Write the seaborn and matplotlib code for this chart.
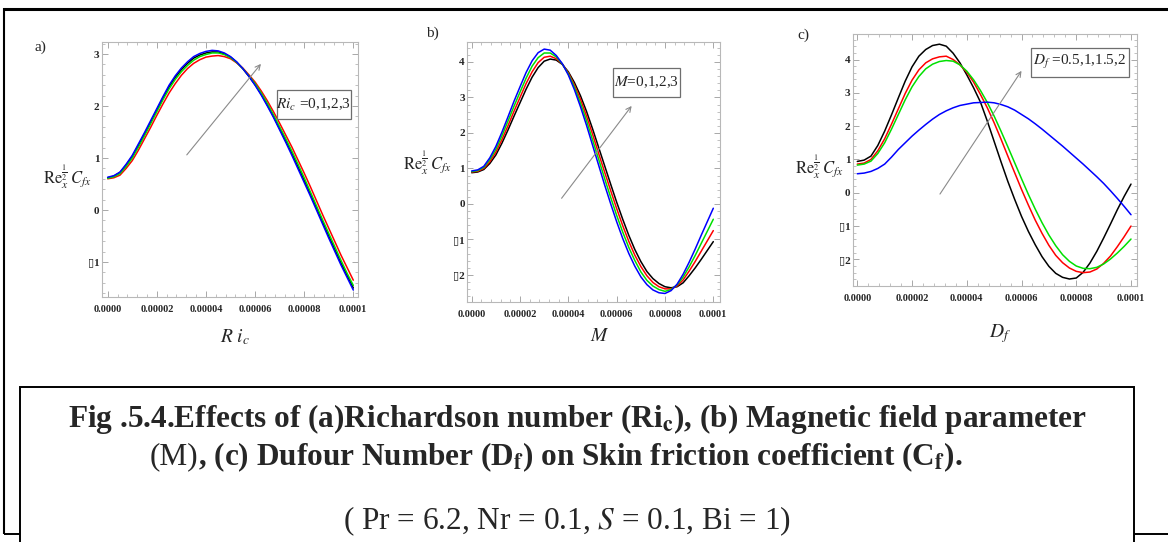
import numpy as np
import pandas as pd
import matplotlib
matplotlib.use("Agg")
import matplotlib.pyplot as plt
import seaborn as sns
from matplotlib.patches import Rectangle
from matplotlib.lines import Line2D
from matplotlib.ticker import AutoMinorLocator

# ---------------------------------------------------------------------------
# data: skin friction Re_x^{1/2} C_fx sampled every 2.5e-6 along the x axis
# ---------------------------------------------------------------------------
x_grid = np.linspace(0.0, 1.0e-4, 41)

# (a) Richardson number Ri_c
ri_black = [0.62, 0.65, 0.72, 0.86, 1.03, 1.24, 1.46, 1.69, 1.92, 2.15, 2.37,
            2.55, 2.70, 2.82, 2.92, 2.98, 3.02, 3.04, 3.04, 3.00, 2.94, 2.84,
            2.72, 2.57, 2.41, 2.23, 2.02, 1.80, 1.57, 1.33, 1.09, 0.83, 0.57,
            0.31, 0.04, -0.23, -0.50, -0.76, -1.02, -1.26, -1.50]
ri_red = [0.60, 0.62, 0.67, 0.80, 0.95, 1.15, 1.37, 1.59, 1.82, 2.04, 2.25,
          2.43, 2.59, 2.72, 2.82, 2.89, 2.94, 2.96, 2.97, 2.95, 2.91, 2.83,
          2.73, 2.60, 2.46, 2.29, 2.10, 1.89, 1.67, 1.44, 1.21, 0.96, 0.71,
          0.45, 0.18, -0.09, -0.35, -0.61, -0.87, -1.11, -1.35]
ri_green = [0.61, 0.64, 0.70, 0.84, 1.00, 1.21, 1.43, 1.66, 1.89, 2.12, 2.33,
            2.51, 2.66, 2.78, 2.88, 2.95, 2.99, 3.02, 3.02, 2.99, 2.93, 2.84,
            2.72, 2.58, 2.43, 2.25, 2.05, 1.83, 1.60, 1.37, 1.13, 0.88, 0.62,
            0.35, 0.08, -0.19, -0.45, -0.71, -0.97, -1.22, -1.45]
ri_blue = [0.63, 0.66, 0.73, 0.88, 1.05, 1.27, 1.49, 1.72, 1.95, 2.18, 2.40,
           2.58, 2.73, 2.85, 2.95, 3.01, 3.05, 3.07, 3.06, 3.02, 2.95, 2.85,
           2.72, 2.57, 2.40, 2.21, 2.00, 1.78, 1.54, 1.30, 1.05, 0.79, 0.53,
           0.27, 0.00, -0.27, -0.54, -0.80, -1.06, -1.30, -1.54]

# (b) magnetic field parameter M
m_black = [0.88, 0.90, 0.97, 1.14, 1.38, 1.71, 2.08, 2.47, 2.85, 3.23, 3.57,
           3.84, 4.02, 4.08, 4.05, 3.93, 3.72, 3.42, 3.05, 2.61, 2.12, 1.60,
           1.08, 0.56, 0.05, -0.43, -0.88, -1.28, -1.62, -1.90, -2.10, -2.24,
           -2.33, -2.36, -2.33, -2.22, -2.02, -1.80, -1.56, -1.31, -1.06]
m_red = [0.90, 0.92, 1.00, 1.19, 1.46, 1.81, 2.20, 2.61, 3.00, 3.39, 3.72,
         3.98, 4.13, 4.16, 4.09, 3.94, 3.69, 3.35, 2.95, 2.48, 1.97, 1.43,
         0.90, 0.38, -0.13, -0.61, -1.05, -1.44, -1.76, -2.02, -2.21, -2.33,
         -2.39, -2.39, -2.31, -2.14, -1.89, -1.62, -1.33, -1.04, -0.75]
m_green = [0.91, 0.94, 1.03, 1.25, 1.54, 1.92, 2.33, 2.75, 3.15, 3.54, 3.88,
           4.12, 4.25, 4.25, 4.14, 3.94, 3.66, 3.29, 2.84, 2.35, 1.81, 1.27,
           0.72, 0.19, -0.32, -0.79, -1.22, -1.59, -1.91, -2.15, -2.31, -2.41,
           -2.46, -2.41, -2.28, -2.06, -1.77, -1.45, -1.11, -0.77, -0.43]
m_blue = [0.93, 0.96, 1.06, 1.30, 1.62, 2.02, 2.45, 2.89, 3.30, 3.70, 4.03,
          4.26, 4.36, 4.33, 4.18, 3.95, 3.63, 3.22, 2.74, 2.22, 1.66, 1.10,
          0.54, 0.01, -0.50, -0.97, -1.39, -1.75, -2.05, -2.27, -2.42, -2.50,
          -2.52, -2.44, -2.26, -1.98, -1.64, -1.27, -0.88, -0.50, -0.12]

# (c) Dufour number D_f
df_black = [0.94, 0.98, 1.10, 1.42, 1.85, 2.34, 2.85, 3.35, 3.78, 4.10, 4.30,
            4.42, 4.46, 4.40, 4.19, 3.90, 3.54, 3.15, 2.72, 2.15, 1.54, 0.93,
            0.34, -0.20, -0.71, -1.16, -1.56, -1.92, -2.21, -2.42, -2.54, -2.59,
            -2.56, -2.39, -2.11, -1.76, -1.36, -0.94, -0.51, -0.11, 0.26]
df_red = [0.86, 0.89, 1.00, 1.26, 1.62, 2.06, 2.52, 2.98, 3.38, 3.69, 3.90,
          4.02, 4.08, 4.10, 4.00, 3.84, 3.62, 3.32, 2.95, 2.55, 2.10, 1.61,
          1.10, 0.60, 0.10, -0.37, -0.82, -1.22, -1.58, -1.88, -2.10, -2.26,
          -2.36, -2.40, -2.38, -2.29, -2.12, -1.90, -1.62, -1.32, -1.00]
df_green = [0.83, 0.86, 0.95, 1.18, 1.50, 1.91, 2.35, 2.79, 3.18, 3.49, 3.72,
            3.86, 3.94, 3.97, 3.95, 3.84, 3.65, 3.39, 3.07, 2.71, 2.30, 1.85,
            1.38, 0.90, 0.42, -0.05, -0.49, -0.90, -1.27, -1.59, -1.86, -2.06,
            -2.20, -2.27, -2.28, -2.24, -2.14, -1.99, -1.81, -1.61, -1.39]
df_blue = [0.57, 0.59, 0.64, 0.73, 0.86, 1.07, 1.30, 1.50, 1.70, 1.88, 2.05,
           2.21, 2.35, 2.46, 2.55, 2.62, 2.66, 2.70, 2.71, 2.72, 2.70, 2.65,
           2.58, 2.48, 2.35, 2.22, 2.07, 1.91, 1.74, 1.57, 1.40, 1.22, 1.04,
           0.86, 0.67, 0.48, 0.28, 0.06, -0.17, -0.41, -0.66]

x_ticks = [0.0, 2e-5, 4e-5, 6e-5, 8e-5, 1e-4]
x_tick_labels = ["0.0000", "0.00002", "0.00004", "0.00006", "0.00008", "0.0001"]
yticks_a = [-1, 0, 1, 2, 3]
ytick_labels_a = ["\u25af1", "0", "1", "2", "3"]
yticks_bc = [-2, -1, 0, 1, 2, 3, 4]
ytick_labels_bc = ["\u25af2", "\u25af1", "0", "1", "2", "3", "4"]

curve_colors = {"black": "#000000", "red": "#ff0000",
                "green": "#00e000", "blue": "#0000ff"}

# ---------------------------------------------------------------------------
sns.set_style("white")
plt.rcParams["font.family"] = ["Liberation Serif", "DejaVu Sans"]
plt.rcParams["mathtext.fontset"] = "stix"

W, H = 1168, 542
fig = plt.figure(figsize=(W / 100, H / 100), dpi=100)


def fx(px):
    return px / W


def fy(py):
    return 1 - py / H


def frame_rect(l, t, r, b):
    return [fx(l), fy(b), (r - l) / W, (b - t) / H]


def long_table(series):
    rows = []
    for name, vals in series.items():
        for xv, yv in zip(x_grid, vals):
            rows.append({"x": xv, "y": yv, "curve": name})
    return pd.DataFrame(rows)


panels = [
    dict(rect=(101.7, 42.3, 358, 297), xlim=(-2.44e-6, 1.0191e-4), ylim=(-1.673, 3.225),
         series={"black": ri_black, "red": ri_red, "green": ri_green, "blue": ri_blue},
         yticks=yticks_a, yticklabels=ytick_labels_a,
         arrow=((3.22e-5, 1.06), (6.24e-5, 2.81)),
         xlabel=r"$R\ i_c$", xlab_pos=(0.52, -0.118), ylab_pos=(-0.135, 0.471),
         letter=("a)", 40, 47),
         box=(276.7, 90, 351, 119), box_text=r"$Ri_c$ =0,1,2,3"),
    dict(rect=(467, 42, 720, 302), xlim=(-1.95e-6, 1.0277e-4), ylim=(-2.76, 4.56),
         series={"black": m_black, "red": m_red, "green": m_green, "blue": m_blue},
         yticks=yticks_bc, yticklabels=ytick_labels_bc,
         arrow=((3.72e-5, 0.16), (6.62e-5, 2.76)),
         xlabel=r"$M$", xlab_pos=(0.526, -0.10), ylab_pos=(-0.158, 0.535),
         letter=("b)", 432, 33),
         box=(613, 68, 680, 97), box_text=r"$M$=0,1,2,3"),
    dict(rect=(852.7, 34.3, 1136.7, 286), xlim=(-1.68e-6, 1.0208e-4), ylim=(-2.80, 4.757),
         series={"black": df_black, "red": df_red, "green": df_green, "blue": df_blue},
         yticks=yticks_bc, yticklabels=ytick_labels_bc,
         arrow=((3.02e-5, -0.04), (6.0e-5, 3.66)),
         xlabel=r"$D_f$", xlab_pos=(0.519, -0.143), ylab_pos=(-0.118, 0.473),
         letter=("c)", 803, 35),
         box=(1030.7, 48, 1129, 77), box_text=r"$D_f$ =0.5,1,1.5,2"),
]

# outer frame around the whole figure
frame_kw = dict(color="black", solid_capstyle="butt")
fig.add_artist(Line2D([fx(3), 1.0], [fy(8.5), fy(8.5)], lw=2.2, **frame_kw))
fig.add_artist(Line2D([fx(4.3), fx(4.3)], [fy(7.5), fy(534)], lw=1.5, **frame_kw))
fig.add_artist(Line2D([fx(3.6), fx(22)], [fy(534), fy(534)], lw=1.4, **frame_kw))
fig.add_artist(Line2D([fx(1133), 1.0], [fy(534), fy(534)], lw=1.4, **frame_kw))

for p in panels:
    ax = fig.add_axes(frame_rect(*p["rect"]))
    data = long_table(p["series"])
    sns.lineplot(data=data, x="x", y="y", hue="curve", palette=curve_colors,
                 hue_order=list(p["series"].keys()), estimator=None, sort=False,
                 lw=1.1, legend=False, ax=ax)
    ax.set_xlim(*p["xlim"])
    ax.set_ylim(*p["ylim"])
    ax.set_xticks(x_ticks)
    ax.set_xticklabels(x_tick_labels)
    ax.set_yticks(p["yticks"])
    ax.set_yticklabels(p["yticklabels"])
    ax.xaxis.set_minor_locator(AutoMinorLocator(5))
    ax.yaxis.set_minor_locator(AutoMinorLocator(5))
    for s in ax.spines.values():
        s.set_color("#b8b8b8")
        s.set_linewidth(0.8)
        s.set_visible(True)
    ax.tick_params(which="both", direction="in", color="#a8a8a8", top=True, right=True,
                   bottom=True, left=True)
    ax.tick_params(which="major", length=4, width=0.7)
    ax.tick_params(which="minor", length=2, width=0.5)
    ax.tick_params(axis="x", pad=6, labelsize=7.5)
    ax.tick_params(axis="y", pad=1.5, labelsize=8)
    for lab in ax.get_xticklabels() + ax.get_yticklabels():
        lab.set_fontweight("bold")
    ax.set_xlabel(p["xlabel"], fontsize=14)
    ax.xaxis.set_label_coords(*p["xlab_pos"])
    ax.set_ylabel(r"$\mathrm{Re}_x^{\frac{1}{2}}\,C_{fx}$", fontsize=12, rotation=0,
                  ha="center", va="center")
    ax.yaxis.set_label_coords(*p["ylab_pos"])
    ax.annotate("", xy=p["arrow"][1], xytext=p["arrow"][0],
                arrowprops=dict(arrowstyle="->", color="#8a8a8a", lw=0.8,
                                mutation_scale=9, shrinkA=0, shrinkB=0))
    letter, lx, ly = p["letter"]
    fig.text(fx(lx), fy(ly), letter, fontsize=11, ha="center", va="center")
    bl, bt, br, bb = p["box"]
    fig.add_artist(Rectangle((fx(bl), fy(bb)), (br - bl) / W, (bb - bt) / H,
                             transform=fig.transFigure, facecolor="white",
                             edgecolor="#6e6e6e", lw=0.9, zorder=5))
    fig.text(fx((bl + br) / 2), fy((bt + bb) / 2), p["box_text"], fontsize=11,
             ha="center", va="center", zorder=6)

# caption box
fig.add_artist(Rectangle((fx(20), fy(548)), (1134 - 20) / W, (548 - 387) / H,
                         transform=fig.transFigure, facecolor="white",
                         edgecolor="black", lw=1.4, zorder=3, clip_on=False))

CAP = 22.5
fig.text(fx(577.3), fy(419),
         r"Fig .5.4.Effects of (a)Richardson number (Ri$_\mathbf{c}$), (b) Magnetic field parameter",
         fontsize=CAP, fontweight="bold", ha="center", va="center", zorder=4)

# second caption line mixes a regular and a bold run
renderer = fig.canvas.get_renderer()
run1 = fig.text(0, fy(457), "(M)", fontsize=CAP, ha="left", va="center", zorder=4)
run2 = fig.text(0, fy(457),
                r", (c) Dufour Number (D$_\mathbf{f}$) on Skin friction coefficient (C$_\mathbf{f}$).",
                fontsize=CAP, fontweight="bold", ha="left", va="center", zorder=4)
w1 = run1.get_window_extent(renderer).width
w2 = run2.get_window_extent(renderer).width
left = 556 - (w1 + w2) / 2
run1.set_x(fx(left))
run2.set_x(fx(left + w1))

fig.text(fx(567), fy(521), r"( Pr = 6.2, Nr = 0.1, $S$ = 0.1, Bi = 1)",
         fontsize=CAP, ha="center", va="center", zorder=4)

fig.savefig("out.png", dpi=100)
